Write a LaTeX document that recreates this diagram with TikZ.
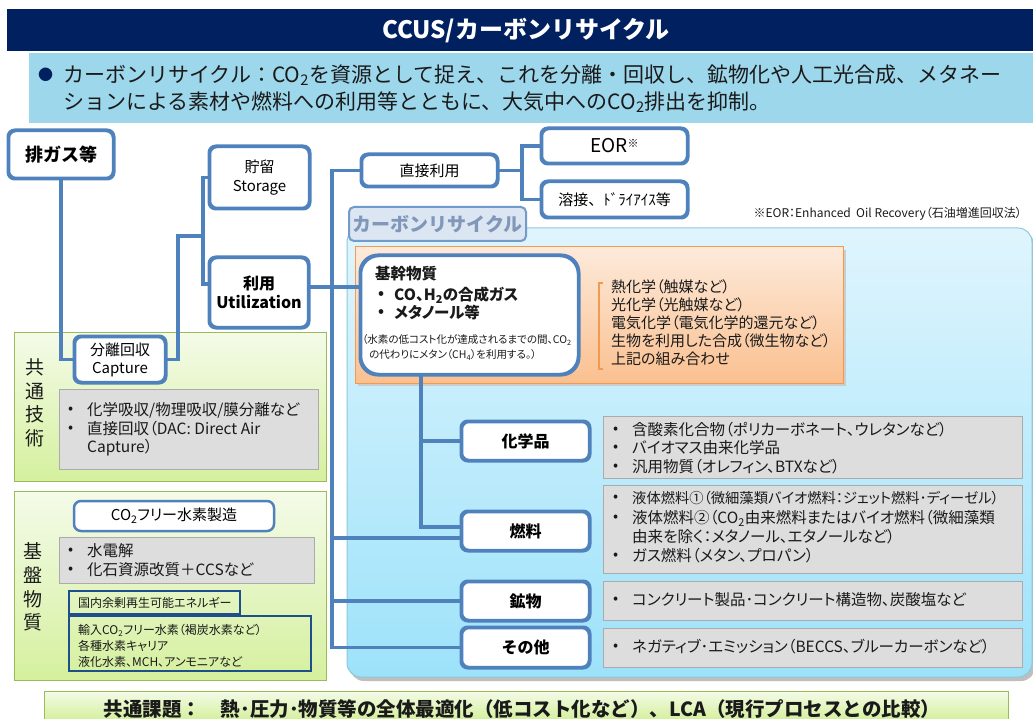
\documentclass[tikz,border=0pt]{standalone}
\usepackage{fontspec}
\setmainfont{Noto Sans CJK JP}
\newfontfamily\pf{Noto Sans CJK JP}[RawFeature=+palt]
\definecolor{navy}{HTML}{002060}
\definecolor{barblue}{HTML}{9DD7EC}
\definecolor{lb}{HTML}{4F81BD}
\definecolor{grayfill}{HTML}{DDDDDD}
\definecolor{grayedge}{HTML}{ABABAB}
\definecolor{gtop}{HTML}{F4FBE9}
\definecolor{gbot}{HTML}{D5F09E}
\definecolor{gedge}{HTML}{9BBB59}
\definecolor{btop}{HTML}{DFF5FD}
\definecolor{bbot}{HTML}{9DE2FA}
\definecolor{bedge}{HTML}{8CC8DC}
\definecolor{otop}{HTML}{FDEADB}
\definecolor{obot}{HTML}{FAC08F}
\definecolor{oedge}{HTML}{F49A50}
\definecolor{tabfill}{HTML}{DCE6F2}
\definecolor{tabtext}{HTML}{8197BA}
\definecolor{dnavy}{HTML}{1F4E8C}
\definecolor{txtc}{HTML}{1A1A1A}
\newcommand\myfs[2]{\fontsize{#1}{#2}\selectfont}
\begin{document}
\begin{tikzpicture}[x=1pt,y=-1pt,
  rbox/.style={draw=lb, line width=2.5pt, rounded corners=7pt, fill=white, align=center, inner sep=0pt, text=black},
  conn/.style={draw=lb, line width=3.5pt},
  graybox/.style={fill=grayfill, draw=grayedge, line width=0.8pt},
  lt/.style={anchor=west, inner sep=0pt, text=txtc},
  dbox/.style={draw=dnavy, line width=1.6pt},
]
\useasboundingbox (0,0) rectangle (1033,719);
% title and lead
\fill[navy] (7,9) rectangle (1033,51);
\node[text=white, font=\myfs{24}{24}\bfseries] (title) at (526,31) {CCUS/カーボンリサイクル};
\fill[barblue] (29,53) rectangle (1033,123);
\node[lt, text=navy, font=\myfs{15}{15}] (dot) at (38,75) {●};
\node[lt, font=\myfs{21}{21}] (lead1) at (63,75) {カーボンリサイクル：CO\textsubscript{2}を資源として捉え、これを分離・回収し、鉱物化や人工光合成、メタネー};
\node[lt, font=\myfs{21}{21}] (lead2) at (63,102) {ションによる素材や燃料への利用等とともに、大気中へのCO\textsubscript{2}排出を抑制。};

% green panels
\draw[gedge, line width=1pt, top color=gtop, bottom color=gbot] (14,332) rectangle (326,481);
\draw[gedge, line width=1pt, top color=gtop, bottom color=gbot] (14,491) rectangle (326,680);
% bottom bar
\fill[top color=gtop, bottom color=gbot] (44,691) rectangle (1008,719);
\draw[gedge, line width=1pt] (44,719) -- (44,691) -- (1008,691) -- (1008,719);
\node[font=\myfs{19.5}{19.5}\bfseries, text=txtc] (issue) at (522,709) {共通課題：　熱･圧力･物質等の全体最適化（低コスト化など）、LCA（現行プロセスとの比較）};

% blue panel
\fill[black!25, rounded corners=14pt] (350,232) rectangle (1035,681);
\draw[bedge, line width=1pt, top color=btop, bottom color=bbot, rounded corners=14pt] (347,228) rectangle (1032,677);
\node[draw=lb!80, line width=2pt, fill=tabfill, rounded corners=5pt, minimum width=177pt, minimum height=34pt, text=tabtext, font=\myfs{19}{19}\bfseries] (tab) at (437.5,224) {カーボンリサイクル};
% orange area
\fill[black!20] (358,250) rectangle (846,386);
\draw[oedge, line width=1pt, top color=otop, bottom color=obot] (355,247) rectangle (843,383);
\draw[oedge, line width=2pt] (603,283) -- (599,283) -- (599,369) -- (603,369);
\node[lt, font=\pf\myfs{15}{15}] (p1) at (611,287) {熱化学（触媒など）};
\node[lt, font=\pf\myfs{15}{15}] (p2) at (611,305) {光化学（光触媒など）};
\node[lt, font=\pf\myfs{15}{15}] (p3) at (611,323) {電気化学（電気化学的還元など）};
\node[lt, font=\pf\myfs{15}{15}] (p4) at (611,341) {生物を利用した合成（微生物など）};
\node[lt, font=\pf\myfs{15}{15}] (p5) at (611,359) {上記の組み合わせ};

% gray boxes left
\draw[graybox] (59,389) rectangle (318,469);
\node[lt, font=\myfs{15}{15}] (ca) at (68,410) {•};
\node[lt, font=\pf\myfs{15.5}{15.5}] (c1) at (87,410) {化学吸収/物理吸収/膜分離など};
\node[lt, font=\myfs{15}{15}] (cb) at (68,429) {•};
\node[lt, font=\pf\myfs{15.5}{15.5}] (c2) at (87,429) {直接回収（DAC: Direct Air};
\node[lt, font=\pf\myfs{15.5}{15.5}] (c3) at (87,448) {Capture）};
\node[font=\myfs{19}{23.5}, align=center, text=txtc] (vl1) at (35,403) {共\\通\\技\\術};

\draw[graybox] (59,537) rectangle (314,583);
\node[lt, font=\myfs{15}{15}] (ha) at (68,551) {•};
\node[lt, font=\pf\myfs{15.5}{15.5}] (h1) at (87,551) {水電解};
\node[lt, font=\myfs{15}{15}] (hb) at (68,570) {•};
\node[lt, font=\pf\myfs{15.5}{15.5}] (h2) at (87,570) {化石資源改質＋CCSなど};
\node[font=\myfs{19}{23.7}, align=center, text=txtc] (vl2) at (33,587) {基\\盤\\物\\質};
\draw[dbox] (69,591) rectangle (240,614);
\node[lt, font=\pf\myfs{12}{12}] (e1) at (78,603) {国内余剰再生可能エネルギー};
\draw[dbox] (69,616) rectangle (311,671);
\node[lt, font=\pf\myfs{12}{12}] (i1) at (78,630) {輸入CO\textsubscript{2}フリー水素（褐炭水素など）};
\node[lt, font=\pf\myfs{12}{12}] (i2) at (78,646) {各種水素キャリア};
\node[lt, font=\pf\myfs{12}{12}] (i3) at (78,662) {液化水素、MCH、アンモニアなど};

% gray boxes right
\draw[graybox] (603,416) rectangle (1022,478);
\draw[graybox] (603,485) rectangle (1022,573);
\draw[graybox] (603,581) rectangle (1022,620);
\draw[graybox] (603,628) rectangle (1022,667);
\foreach \yy/\nm in {430/r1,448/r2,467/r3,498/r4,518/r5,556/r6,600/r7,647/r8}
  \node[lt, font=\myfs{15}{15}] (\nm) at (613,\yy) {•};
\node[lt, font=\pf\myfs{15.5}{15.5}] (t1) at (632,430) {含酸素化合物（ポリカーボネート、ウレタンなど）};
\node[lt, font=\pf\myfs{15.5}{15.5}] (t2) at (632,448) {バイオマス由来化学品};
\node[lt, font=\pf\myfs{15.5}{15.5}] (t3) at (632,467) {汎用物質（オレフィン、BTXなど）};
\node[lt, font=\pf\myfs{14.3}{14.3}] (t4) at (632,498) {液体燃料①（微細藻類バイオ燃料：ジェット燃料･ディーゼル）};
\node[lt, font=\pf\myfs{15.5}{15.5}] (t5) at (632,518) {液体燃料②（CO\textsubscript{2}由来燃料またはバイオ燃料（微細藻類};
\node[lt, font=\pf\myfs{15.5}{15.5}] (t6) at (632,537) {由来を除く：メタノール、エタノールなど）};
\node[lt, font=\pf\myfs{15.5}{15.5}] (t7) at (632,556) {ガス燃料（メタン、プロパン）};
\node[lt, font=\pf\myfs{15.5}{15.5}] (t8) at (632,600) {コンクリート製品･コンクリート構造物、炭酸塩など};
\node[lt, font=\pf\myfs{15.5}{15.5}] (t9) at (632,647) {ネガティブ･エミッション（BECCS、ブルーカーボンなど）};

% note
\node[anchor=east, inner sep=0pt, font=\pf\myfs{12}{12}, text=txtc] (note) at (1022,214) {※EOR：Enhanced\ \ Oil Recovery（石油増進回収法）};

% helper coordinates
\coordinate (mt) at (332,0);
\coordinate (st) at (421,0);
\coordinate (dt) at (522,0);
\coordinate (ct) at (203,0);
\coordinate (cj) at (178,0);
\coordinate (y236) at (0,236);
\coordinate (y284) at (0,284);
\coordinate (y287) at (0,287);
\coordinate (y527) at (0,527);
\coordinate (y538) at (0,538);

% boxes
\node[rbox, minimum width=104pt, minimum height=47pt, font=\myfs{18}{18}\bfseries] (gas) at (61,154.5) {排ガス等};
\node[rbox, minimum width=99pt, minimum height=61pt, font=\myfs{15}{19}] (storage) at (259.5,177.5) {貯留\\Storage};
\node[rbox, minimum width=98pt, minimum height=69pt, font=\myfs{16}{19}\bfseries] (util) at (259,292.5) {利用\\Utilization};
\node[rbox, minimum width=90pt, minimum height=45pt, font=\myfs{15}{18}] (capture) at (120,359.5) {分離回収\\Capture};
\node[rbox, minimum width=135pt, minimum height=31pt, font=\myfs{15}{15}] (direct) at (429.5,170.5) {直接利用};
\node[rbox, minimum width=145pt, minimum height=34pt, font=\myfs{19}{19}] (eor) at (614.5,146) {EOR\raisebox{5pt}{\myfs{11}{11}※}};
\node[rbox, minimum width=145pt, minimum height=35pt, font=\myfs{15}{15}] (weld) at (614.5,199.5) {溶接、ﾄﾞﾗｲｱｲｽ等};
\node[rbox, rounded corners=18pt, minimum width=217pt, minimum height=118pt] (kikan) at (469.5,315) {};
\node[rbox, minimum width=127pt, minimum height=38pt, font=\myfs{16}{16}\bfseries] (chem) at (525.5,441) {化学品};
\node[rbox, minimum width=127pt, minimum height=38pt, font=\myfs{16}{16}\bfseries] (fuel) at (525.5,531) {燃料};
\node[rbox, minimum width=127pt, minimum height=38pt, font=\myfs{16}{16}\bfseries] (mineral) at (525.5,601) {鉱物};
\node[rbox, minimum width=127pt, minimum height=39pt, font=\myfs{16}{16}\bfseries] (other) at (525.5,647.5) {その他};
\node[rbox, minimum width=200pt, minimum height=30pt, font=\pf\myfs{15}{15}] (h2box) at (174,516) {CO\textsubscript{2}フリー水素製造};

% connectors
\draw[conn] (gas.south) |- (capture.west);
\draw[conn] (capture.east) -| (cj |- y236) -- (ct |- y236);
\draw[conn] (storage.west) -| (ct |- y284) -- (util.west |- y284);
\draw[conn] (util.east |- y287) -- (kikan.west |- y287);
\draw[conn] (direct.west) -| (mt |- other.west) -- (other.west);
\draw[conn] (mt |- y538) -- (fuel.west |- y538);
\draw[conn] (mt |- mineral.west) -- (mineral.west);
\draw[conn] (st |- kikan.south) |- (fuel.west |- y527);
\draw[conn] (st |- chem.west) -- (chem.west);
\draw[conn] (direct.east) -- (dt |- direct.east);
\draw[conn] (eor.west) -| (dt |- weld.west) -- (weld.west);

% redraw box borders over connector ends
\foreach \b in {gas,storage,util,capture,direct,eor,weld,chem,fuel,mineral,other}
  \draw[draw=lb, line width=2.5pt, rounded corners=7pt] (\b.north west) rectangle (\b.south east);
\draw[draw=lb, line width=2.5pt, rounded corners=18pt] (kikan.north west) rectangle (kikan.south east);

% kikan texts
\node[lt, font=\myfs{15.5}{15.5}\bfseries] (k0) at (375,274) {基幹物質};
\node[lt, font=\myfs{15}{15}\bfseries] (k1a) at (378,295) {•};
\node[lt, font=\pf\myfs{15.5}{15.5}\bfseries] (k1) at (394,295) {CO、H\textsubscript{2}の合成ガス};
\node[lt, font=\myfs{15}{15}\bfseries] (k2a) at (378,313) {•};
\node[lt, font=\pf\myfs{15.5}{15.5}\bfseries] (k2) at (394,313) {メタノール等};
\node[lt, font=\pf\myfs{10.5}{10.5}] (k3) at (362,340) {（水素の低コスト化が達成されるまでの間、CO\textsubscript{2}};
\node[lt, font=\pf\myfs{10.5}{10.5}] (k4) at (369,355) {の代わりにメタン（CH\textsubscript{4}）を利用する。）};
\end{tikzpicture}
\end{document}
